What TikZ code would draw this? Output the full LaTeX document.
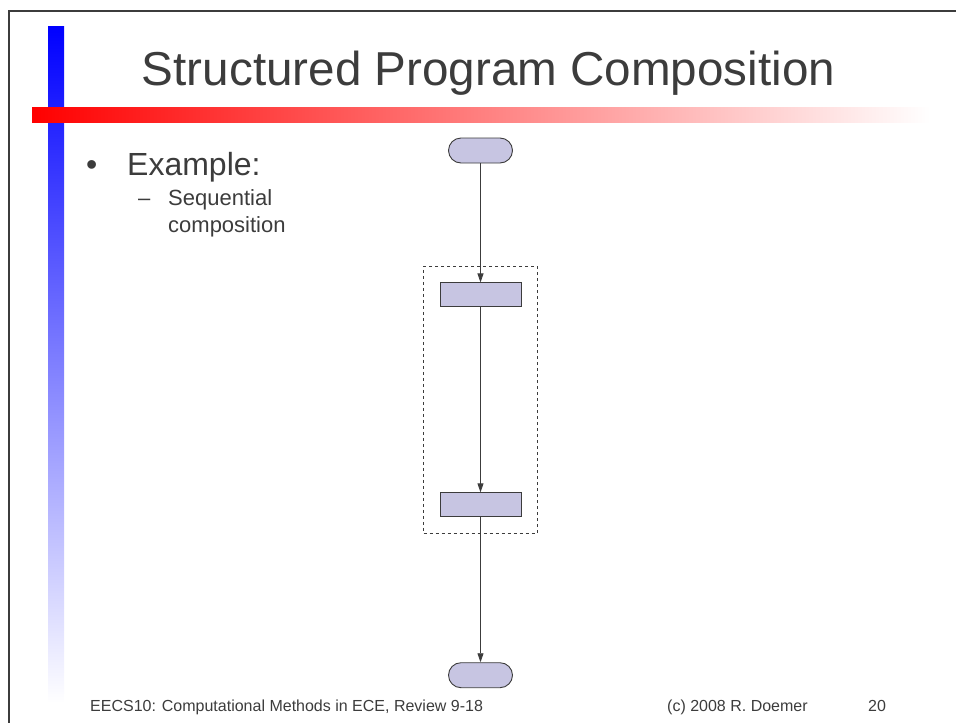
\documentclass[tikz,border=0pt]{standalone}
\usepackage{fontspec}
\setmainfont{Liberation Sans}
\usepackage{tikz}
\usetikzlibrary{arrows.meta,positioning,shapes.misc,fit}
\definecolor{slidegray}{HTML}{3C3C3C}
\definecolor{flowfill}{HTML}{C7C5E2}
\tikzset{terminal/.style={
    % The shape:
    rounded rectangle,
    % The size:
    minimum height=25pt,
    minimum width=64pt,
    inner sep=0pt,
    % The border:
    draw=slidegray,
    line width=0.9pt,
    % The filling:
    fill=flowfill,
    },
    stmt/.style={
    rectangle,
    minimum height=24pt,
    minimum width=81pt,
    inner sep=0pt,
    draw=slidegray,
    line width=0.9pt,
    fill=flowfill,
    },
    block/.style={
    rectangle,
    draw=slidegray,
    dashed,
    line width=0.9pt,
    inner sep=16pt,
    },
    flow/.style={
    -{Triangle[length=9pt,width=6pt]},
    draw=slidegray,
    line width=0.9pt,
    },
    slidetext/.style={
    text=slidegray,
    inner sep=0pt,
    anchor=base west,
    },
}

\begin{document}
\begin{tikzpicture}[x=1pt,y=-1pt]
    \useasboundingbox (0,0) rectangle (956,723);
    % slide frame and bars
    \draw[slidegray,line width=2.5pt] (9,723) -- (9,11) -- (956,11);
    \shade[top color=blue,bottom color=white] (48,26) rectangle (64,703);
    \shade[left color=red,right color=white] (32,107) rectangle (930,122);

    % texts
    \node (title) [slidetext,anchor=base,font=\fontsize{47.6}{56}\selectfont] at (488.5,85) {Structured Program Composition};
    \node (bullet)  [slidetext,font=\fontsize{32}{38}\selectfont] at (86,175) {\textbullet};
    \node (example) [slidetext,font=\fontsize{32}{38}\selectfont] at (127,175) {Example:};
    \node (dash)    [slidetext,font=\fontsize{22}{26}\selectfont] at (138,205) {--};
    \node (seq)     [slidetext,font=\fontsize{22}{26}\selectfont] at (168,205) {Sequential};
    \node (comp)    [slidetext,font=\fontsize{22}{26}\selectfont] at (168,232) {composition};

    \node (footer)  [slidetext,font=\fontsize{16}{19}\selectfont] at (90,711) {EECS10: Computational Methods in ECE, Review 9-18};
    \node (author)  [slidetext,font=\fontsize{16}{19}\selectfont] at (667,711) {(c) 2008 R. Doemer};
    \node (page)    [slidetext,font=\fontsize{16}{19}\selectfont] at (868,711) {20};

    % flow chart
    \node (start) [terminal] at (480.5,150.5) {};
    \node (first) [stmt,below=119pt of start] {};
    \node (second)[stmt,below=185pt of first] {};
    \node (stop)  [terminal,below=145pt of second] {};
    \node (seqblock) [block,fit=(first)(second)] {};

    \draw[flow] (start) -- (first);
    \draw[flow] (first) -- (second);
    \draw[flow] (second) -- (stop);
  \end{tikzpicture}
\end{document}
